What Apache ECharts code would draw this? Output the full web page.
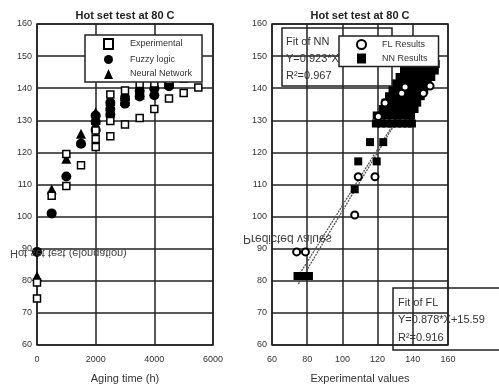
<!DOCTYPE html>
<html><head><meta charset="utf-8">
<script src="https://cdn.jsdelivr.net/npm/echarts@6/dist/echarts.min.js"></script>
<style>html,body{margin:0;padding:0;background:#fff}#c{width:499px;height:389px}</style>
</head><body><div id="c"></div>
<script>
// ---- Left chart: Hot set test vs aging time ----
const xTicksLeft = [0, 2000, 4000, 6000];
const yTicks = [60, 70, 80, 90, 100, 110, 120, 130, 140, 150, 160];
const expTimes  = [0, 0, 500, 1000, 1000, 1500, 2000, 2000, 2000, 2500, 2500, 2500, 3000, 3000, 3500, 3500, 4000, 4000, 4500, 4500, 5000, 5000, 5500];
const expValues = [74.5, 79.5, 106.5, 109.5, 119.5, 116, 121.7, 124.2, 126.8, 125, 129.8, 138, 128.7, 139.3, 130.7, 141.3, 133.5, 141.5, 136.8, 142.5, 138.5, 143, 140.2];
const flTimes  = [0, 500, 1000, 1500, 2000, 2000, 2000, 2500, 2500, 2500, 3000, 3000, 3500, 3500, 4000, 4000, 4500, 4500];
const flValues = [89, 101, 112.5, 122.7, 127, 129.5, 131.5, 131.8, 133.5, 135.5, 135.2, 136.8, 137.4, 139.2, 137.8, 139.8, 140.6, 141.8];
const nnTimes  = [0, 500, 1000, 1500, 1500, 2000, 2000, 2000, 2500, 2500, 2500, 3000, 3000, 3000, 3500, 3500, 4000, 4000, 4500, 4500];
const nnValues = [81.5, 108.5, 118, 123.5, 125.8, 128, 130.2, 132.5, 132.5, 134.3, 136, 136, 137.6, 139, 138, 139.7, 139.2, 141, 141.5, 142.5];

// ---- Right chart: predicted vs experimental ----
const xTicksRight = [60, 80, 100, 120, 140, 160];
const flExp  = [74, 79, 107, 109, 118.5, 120.4, 124.2, 133.7, 135.6, 146, 149.8];
const flPred = [89, 89, 100.5, 112.4, 112.4, 131.2, 135.4, 138.4, 140.4, 138.4, 140.7];
const nnExp  = [74.5, 76, 78, 79.5, 81, 107, 109, 119.5, 115.7, 123.2,
  119, 122, 125, 128, 131, 134, 137, 139.5,
  119.5, 122.5, 125.5, 128.5, 131.5, 134.5, 137.5, 139,
  123, 126, 129, 132, 135, 138, 141,
  124.5, 127.5, 130.5, 133.5, 136.5, 139.5, 142.5,
  126.5, 129.5, 132.5, 135.5, 138.5, 141.5, 144.5,
  128.5, 131.5, 134.5, 137.5, 140.5, 143.5, 146.5,
  130.5, 133.5, 136.5, 139.5, 142.5, 145.5, 148.5,
  132.5, 135.5, 138.5, 141.5, 144.5, 147.5, 150.5,
  135, 138, 141, 144, 147, 150, 152.5,
  138, 141, 144, 147, 150, 153];
const nnPred = [81.5, 81.5, 81.5, 81.5, 81.5, 108.5, 117.2, 117.2, 123.2, 123.2,
  129, 129, 129, 129, 129, 129, 129, 129,
  131.5, 131.5, 131.5, 131.5, 131.5, 131.5, 131.5, 131.5,
  133.5, 133.5, 133.5, 133.5, 133.5, 133.5, 133.5,
  135.5, 135.5, 135.5, 135.5, 135.5, 135.5, 135.5,
  137.5, 137.5, 137.5, 137.5, 137.5, 137.5, 137.5,
  139.5, 139.5, 139.5, 139.5, 139.5, 139.5, 139.5,
  141.5, 141.5, 141.5, 141.5, 141.5, 141.5, 141.5,
  143.5, 143.5, 143.5, 143.5, 143.5, 143.5, 143.5,
  145.5, 145.5, 145.5, 145.5, 145.5, 145.5, 145.5,
  147.5, 147.5, 147.5, 147.5, 147.5, 147.5];
const nnFitX = [75, 151];
const nnFitY = [79, 148.2];
const flFitX = [75, 150];
const flFitY = [81.5, 147.3];

const zip = (a, b) => a.map((v, i) => [v, b[i]]);
const FONT = 'Liberation Sans, Arial, sans-serif';
const INK = '#222';

function xAxisCfg(grid, min, max, interval, name) {
  return {
    type: 'value', gridIndex: grid, min: min, max: max, interval: interval,
    axisLine: {show: false}, axisTick: {show: false},
    splitLine: {show: true, lineStyle: {color: INK, width: 1.5}},
    axisLabel: {fontSize: 9, color: '#333', margin: 10, fontFamily: FONT, formatter: v => String(v)},
    name: name, nameLocation: 'middle', nameGap: 28,
    nameTextStyle: {fontSize: 11, color: '#333', fontFamily: FONT}
  };
}
function yAxisCfg(grid) {
  return {
    type: 'value', gridIndex: grid, min: yTicks[0], max: yTicks[yTicks.length - 1], interval: 10,
    axisLine: {show: false}, axisTick: {show: false},
    splitLine: {show: true, lineStyle: {color: INK, width: 1.5}},
    axisLabel: {fontSize: 9, color: '#333', margin: 5, fontFamily: FONT, formatter: v => String(v)}
  };
}

const chart = echarts.init(document.getElementById('c'), null, {renderer: 'canvas'});
chart.setOption({
  animation: false,
  backgroundColor: '#fff',
  textStyle: {fontFamily: FONT},
  grid: [
    {left: 37, top: 24, width: 176, height: 326, show: true, borderColor: INK, borderWidth: 1.5},
    {left: 272, top: 24, width: 176, height: 326, show: true, borderColor: INK, borderWidth: 1.5}
  ],
  xAxis: [
    xAxisCfg(0, xTicksLeft[0], xTicksLeft[xTicksLeft.length - 1], 2000, 'Aging time (h)'),
    xAxisCfg(1, xTicksRight[0], xTicksRight[xTicksRight.length - 1], 20, 'Experimental values')
  ],
  yAxis: [yAxisCfg(0), yAxisCfg(1)],
  legend: [
    {
      data: ['Experimental', 'Fuzzy logic', 'Neural Network'],
      orient: 'vertical', left: 85, top: 35, padding: [3, 10, 3, 18],
      itemWidth: 9, itemHeight: 10, itemGap: 4.5,
      backgroundColor: '#fff', borderColor: INK, borderWidth: 1.5, z: 20,
      textStyle: {fontSize: 9, color: '#333', padding: [0, 0, 0, 12], lineHeight: 10}
    },
    {
      data: ['FL Results', 'NN Results'],
      orient: 'vertical', left: 339, top: 36, padding: [3, 11, 3, 17],
      itemWidth: 9, itemHeight: 10, itemGap: 3.5,
      backgroundColor: '#fff', borderColor: INK, borderWidth: 1.5, z: 20,
      textStyle: {fontSize: 9, color: '#333', padding: [0, 0, 0, 11], lineHeight: 10}
    }
  ],
  series: [
    {name: 'Fuzzy logic', type: 'scatter', xAxisIndex: 0, yAxisIndex: 0, symbol: 'circle', symbolSize: 10,
     itemStyle: {color: '#000', opacity: 1}, data: zip(flTimes, flValues), z: 3},
    {name: 'Neural Network', type: 'scatter', xAxisIndex: 0, yAxisIndex: 0, symbol: 'triangle', symbolSize: 10,
     itemStyle: {color: '#000', opacity: 1}, data: zip(nnTimes, nnValues), z: 3},
    {name: 'Experimental', type: 'scatter', xAxisIndex: 0, yAxisIndex: 0, symbol: 'rect', symbolSize: 7,
     itemStyle: {color: '#fff', borderColor: '#000', borderWidth: 1.5, opacity: 1}, data: zip(expTimes, expValues), z: 4},
    {name: 'NN fit', type: 'line', xAxisIndex: 1, yAxisIndex: 1, showSymbol: false, symbol: 'none',
     lineStyle: {color: '#555', width: 1.3, type: [2, 1]}, data: zip(nnFitX, nnFitY), z: 2},
    {name: 'FL fit', type: 'line', xAxisIndex: 1, yAxisIndex: 1, showSymbol: false, symbol: 'none',
     lineStyle: {color: '#555', width: 1.3, type: [2, 1]}, data: zip(flFitX, flFitY), z: 2},
    {name: 'NN Results', type: 'scatter', xAxisIndex: 1, yAxisIndex: 1, symbol: 'rect', symbolSize: 8,
     itemStyle: {color: '#000', opacity: 1}, data: zip(nnExp, nnPred), z: 3},
    {name: 'FL Results', type: 'scatter', xAxisIndex: 1, yAxisIndex: 1, symbol: 'circle', symbolSize: 7,
     itemStyle: {color: '#fff', borderColor: '#000', borderWidth: 2, opacity: 1}, data: zip(flExp, flPred), z: 4}
  ],
  graphic: [
    {type: 'text', x: 125, y: 16, z: 30, style: {text: 'Hot set test at 80 C', font: 'bold 11px ' + FONT, fill: INK, textAlign: 'center', textVerticalAlign: 'middle'}},
    {type: 'text', x: 360, y: 16, z: 30, style: {text: 'Hot set test at 80 C', font: 'bold 11px ' + FONT, fill: INK, textAlign: 'center', textVerticalAlign: 'middle'}},
    {type: 'text', x: 10, y: 253, scaleY: -1, z: 30, style: {text: 'Hot set test (elongation)', font: '11px ' + FONT, fill: '#444', textAlign: 'left', textVerticalAlign: 'middle'}},
    {type: 'text', x: 243, y: 238, scaleY: -1, z: 30, style: {text: 'Predicted values', font: '12px ' + FONT, fill: '#444', textAlign: 'left', textVerticalAlign: 'middle'}},
    {type: 'rect', z: 5, shape: {x: 282, y: 28, width: 110, height: 58}, style: {fill: null, stroke: INK, lineWidth: 1.5}},
    {type: 'text', x: 286, y: 42, z: 6, style: {text: 'Fit of NN', font: '11px ' + FONT, fill: '#333', textVerticalAlign: 'middle'}},
    {type: 'text', x: 286, y: 59, z: 6, style: {text: 'Y=0.923*X+9.85', font: '11px ' + FONT, fill: '#333', textVerticalAlign: 'middle'}},
    {type: 'text', x: 286, y: 76, z: 6, style: {text: 'R²=0.967', font: '11px ' + FONT, fill: '#333', textVerticalAlign: 'middle'}},
    {type: 'rect', z: 5, shape: {x: 393, y: 288, width: 120, height: 62}, style: {fill: null, stroke: INK, lineWidth: 1.5}},
    {type: 'text', x: 398, y: 303, z: 6, style: {text: 'Fit of FL', font: '11px ' + FONT, fill: '#333', textVerticalAlign: 'middle'}},
    {type: 'text', x: 398, y: 320, z: 6, style: {text: 'Y=0.878*X+15.59', font: '11px ' + FONT, fill: '#333', textVerticalAlign: 'middle'}},
    {type: 'text', x: 398, y: 338, z: 6, style: {text: 'R²=0.916', font: '11px ' + FONT, fill: '#333', textVerticalAlign: 'middle'}}
  ]
});
</script></body></html>
